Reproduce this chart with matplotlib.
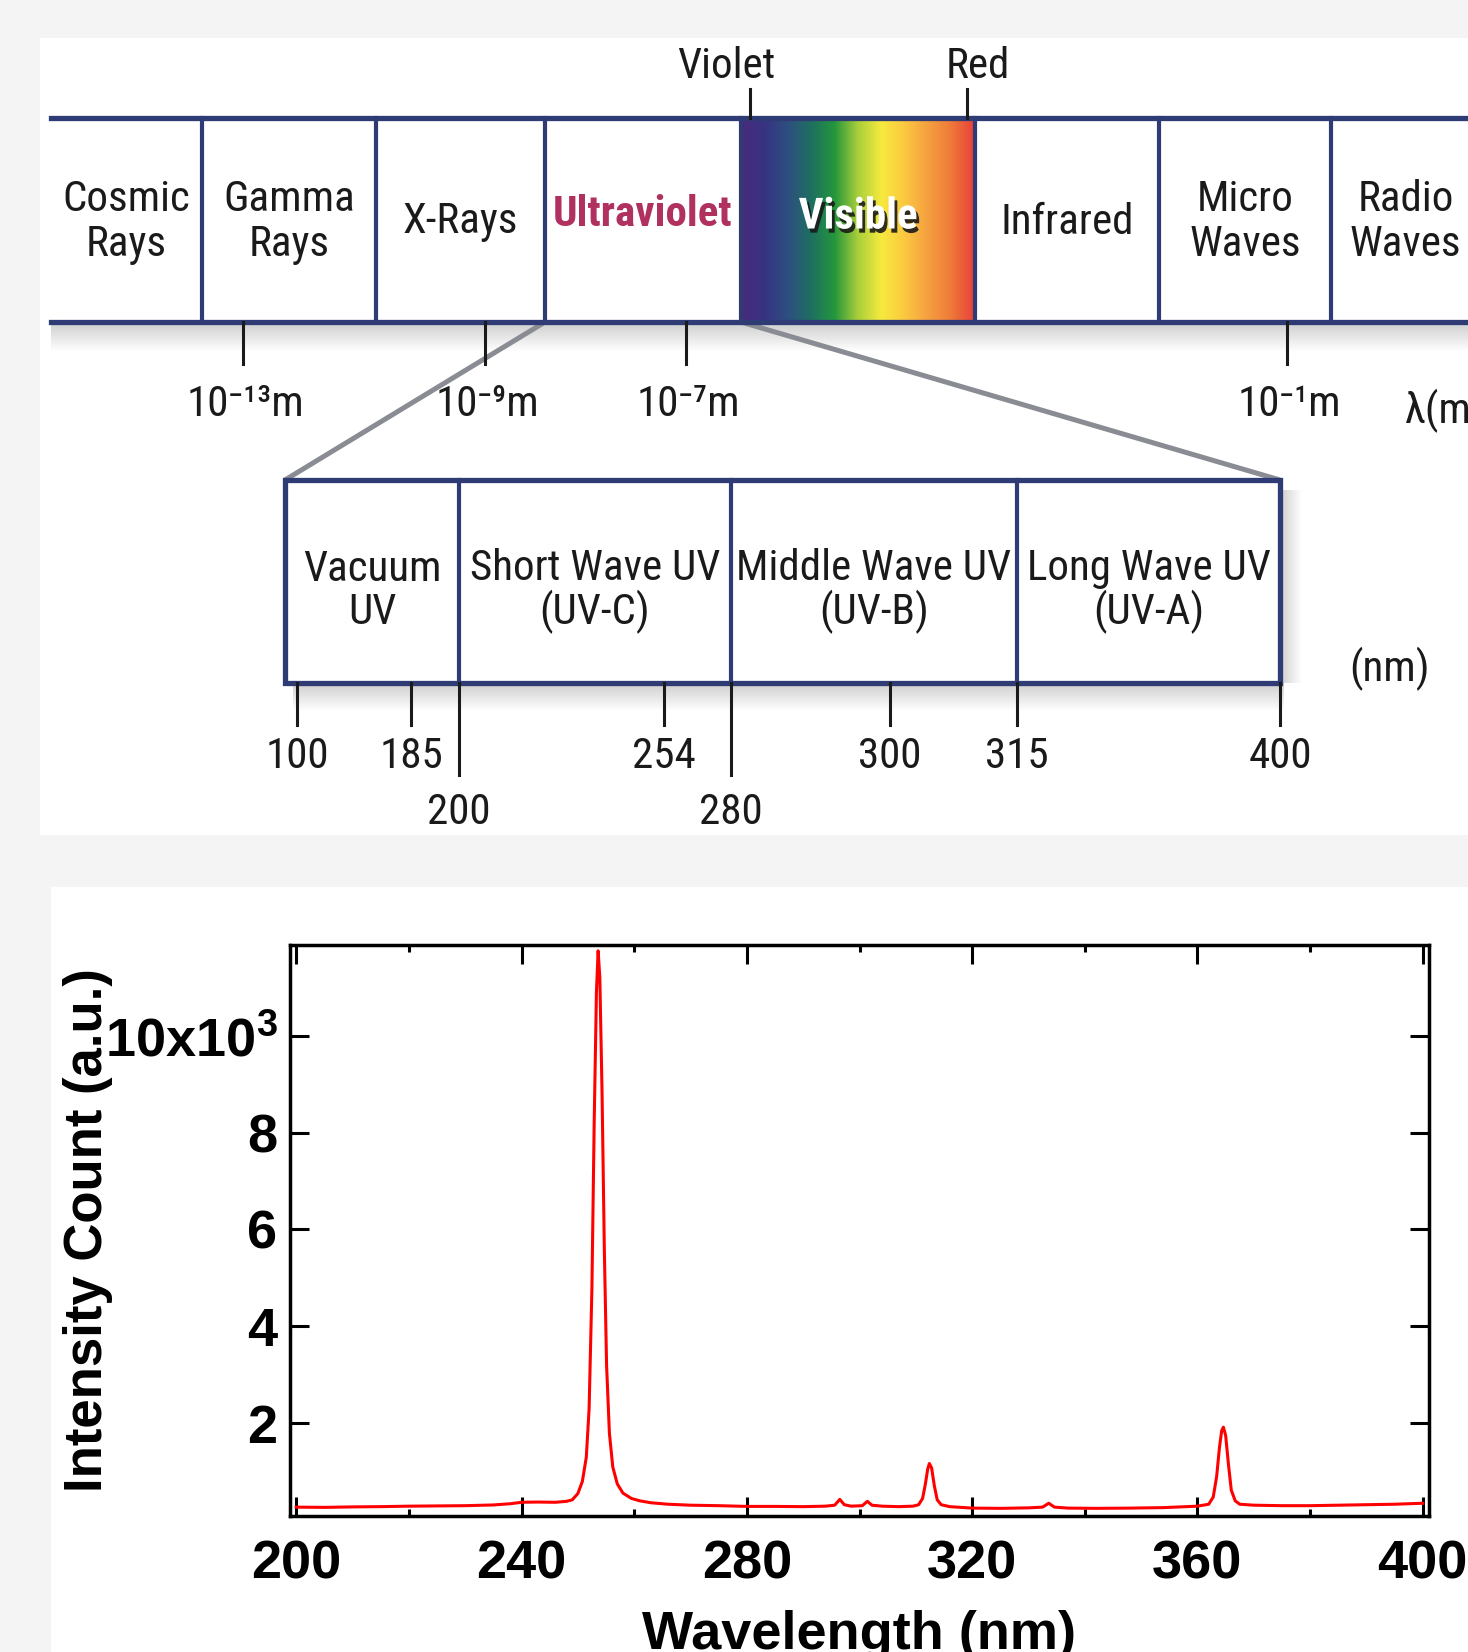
import numpy as np
import matplotlib
matplotlib.use('Agg')
import matplotlib.pyplot as plt
import matplotlib.patheffects as pe
from matplotlib import font_manager
from matplotlib.colors import LinearSegmentedColormap

# ---------------- data ----------------
# electromagnetic spectrum bar (schematic, diagram pixel units)
band_labels = ['Cosmic\nRays', 'Gamma\nRays', 'X-Rays', 'Ultraviolet', 'Visible',
               'Infrared', 'Micro\nWaves', 'Radio\nWaves']
band_edges = [51, 202, 376, 545, 741, 975, 1159, 1331, 1480]
scale_labels = ['10\u207b\u00b9\u00b3m', '10\u207b\u2079m', '10\u207b\u2077m', '10\u207b\u00b9m']
scale_pos = [243, 485, 686, 1287]

# UV detail box
uv_labels = ['Vacuum\nUV', 'Short Wave UV\n(UV-C)', 'Middle Wave UV\n(UV-B)', 'Long Wave UV\n(UV-A)']
uv_edges = [285, 459, 731, 1017, 1280]
uv_ticks = [100, 185, 200, 254, 280, 300, 315, 400]
uv_tick_pos = [297, 411, 459, 664, 731, 890, 1017, 1280]
uv_tick_row = [0, 0, 1, 0, 1, 0, 0, 0]

visible_colors = ['#4a2a7a', '#363383', '#2e4f80', '#1d7060', '#25963c', '#a9cf3a',
                  '#f6ea3e', '#fbc840', '#f5a040', '#ee7a38', '#e8403a']

# measured spectrum (nm, counts)
wavelength = [200, 205, 210, 215, 220, 225, 230, 235, 238, 240, 243, 246, 248,
              249.0, 250.0, 250.8, 251.5, 252.0, 252.5, 252.9, 253.3, 253.6, 253.9,
              254.3, 254.7, 255.1, 255.6, 256.2, 257.0, 258.0, 259.5, 261, 263, 266,
              270, 275, 280, 285, 290, 294, 295.6, 296.5, 297.3, 298.5, 300.5, 301.4,
              302.2, 304, 307, 309.5, 310.5, 311.2, 311.7, 312.1, 312.4, 312.8, 313.3,
              313.8, 314.5, 316, 320, 325, 330, 332.5, 333.6, 334.6, 337, 342, 348,
              354, 360, 362.0, 362.8, 363.4, 363.9, 364.3, 364.6, 365.0, 365.5, 366.0,
              366.7, 367.5, 370, 375, 380, 385, 390, 395, 400]
intensity = [270, 265, 275, 280, 290, 295, 300, 315, 340, 370, 375, 370, 390,
             420, 550, 800, 1300, 2300, 4800, 8200, 10900, 11750, 11200,
             8800, 5600, 3200, 1800, 1100, 750, 560, 450, 400, 360, 330,
             310, 300, 285, 285, 280, 290, 310, 430, 320, 290, 300, 390,
             310, 290, 280, 290, 320, 450, 750, 1050, 1170, 1080, 700,
             420, 320, 280, 250, 245, 255, 270, 350, 270, 250, 245, 250,
             260, 290, 330, 480, 900, 1500, 1850, 1920, 1750, 1150, 620,
             400, 330, 310, 300, 300, 310, 320, 330, 350]

# ---------------- fonts ----------------
ttf = font_manager.fontManager.ttflist
names = {f.name for f in ttf}
if 'Liberation Sans Narrow' in names:
    narrow, stretch, fscale = 'Liberation Sans Narrow', 'normal', 1.0
elif 'Roboto Condensed' in names:
    narrow, stretch, fscale = 'Roboto Condensed', 'normal', 1.0
elif any(f.name == 'DejaVu Sans' and f.stretch in ('condensed', 'semi-condensed') for f in ttf):
    narrow, stretch, fscale = 'DejaVu Sans', 'condensed', 0.85
else:
    narrow, stretch, fscale = 'Liberation Sans', 'normal', 0.86
dfont = dict(family=[narrow, 'DejaVu Sans'], fontstretch=stretch, fontsize=31 * fscale)

plt.rcParams['font.family'] = ['Liberation Sans', 'DejaVu Sans']
plt.rcParams['mathtext.fontset'] = 'custom'
plt.rcParams['mathtext.rm'] = 'Liberation Sans:bold'
plt.rcParams['mathtext.bf'] = 'Liberation Sans:bold'

navy = '#2e3b74'
ink = '#1a1a1a'
fig = plt.figure(figsize=(14.68, 16.52), dpi=100, facecolor='#f4f4f4')

# ---------------- diagram (pixel coordinates) ----------------
ax_d = fig.add_axes([0, 0, 1, 1], zorder=0)
ax_d.set_axis_off()

ax_d.add_patch(plt.Rectangle((40, 38), 1428, 797, color='white', lw=0))
ax_d.add_patch(plt.Rectangle((51, 887), 1417, 765, color='white', lw=0))

def shadow(x0, x1, y0, y1, vertical=True):
    n = 40
    a = np.linspace(0.35, 0, n)
    img = np.zeros((n, 1, 4)) if vertical else np.zeros((1, n, 4))
    img[..., :3] = 0.45
    img[..., 3] = a.reshape(img.shape[:2])
    ax_d.imshow(img, extent=(x0, x1, y1, y0), aspect='auto', interpolation='bilinear', zorder=1)

band_top, band_bot = 118, 322
shadow(51, 1468, band_bot, band_bot + 30)

# zoom lines to UV box
box_top, box_bot = 480, 683
ax_d.plot([band_edges[3], uv_edges[0]], [band_bot, box_top], color='#8a8c94', lw=3.6, zorder=2,
          solid_capstyle='butt')
ax_d.plot([band_edges[4], uv_edges[-1]], [band_bot, box_top], color='#8a8c94', lw=3.6, zorder=2,
          solid_capstyle='butt')

# visible gradient
cmap = LinearSegmentedColormap.from_list('vis', visible_colors)
ax_d.imshow(np.linspace(0, 1, 256).reshape(1, -1), cmap=cmap, aspect='auto',
            extent=(band_edges[4], band_edges[5], band_bot, band_top), zorder=2)

# band frame
ax_d.plot([51, 1468], [band_top, band_top], color=navy, lw=3.8, zorder=4)
ax_d.plot([51, 1468], [band_bot, band_bot], color=navy, lw=3.8, zorder=4)
for x in band_edges[1:-1]:
    ax_d.plot([x, x], [band_top, band_bot], color=navy, lw=3.0, zorder=4)

for i, lab in enumerate(band_labels):
    xc = (band_edges[i] + band_edges[i + 1]) / 2
    kw = dict(ha='center', va='center', zorder=5, linespacing=1.12, **dfont)
    if lab == 'Ultraviolet':
        ax_d.text(xc, 215, lab, color='#b0305f', fontweight='bold', **kw)
    elif lab == 'Visible':
        ax_d.text(xc, 217, lab, color='white', fontweight='bold',
                  path_effects=[pe.SimplePatchShadow(offset=(2, -3), shadow_rgbFace='#1a1a1a', alpha=0.9),
                                pe.Normal()], **kw)
    else:
        ax_d.text(xc, 222, lab, color=ink, **kw)

# violet / red markers
for lab, xt, xl in [('Violet', 750, 726), ('Red', 967, 978)]:
    ax_d.plot([xt, xt], [89, band_top], color=ink, lw=2.2, zorder=4)
    ax_d.text(xl, 66, lab, ha='center', va='center', color=ink, **dfont)

# wavelength scale
for lab, x in zip(scale_labels, scale_pos):
    ax_d.plot([x, x], [band_bot, 364], color=ink, lw=2.2, zorder=4)
    ax_d.text(x + 2, 404, lab, ha='center', va='center', color=ink, **dfont)
ax_d.text(1405, 411, '\u03bb(m)', ha='left', va='center', color=ink, **dfont)

# UV box
shadow(uv_edges[0] + 8, uv_edges[-1] + 4, box_bot, box_bot + 28)
shadow(uv_edges[-1], uv_edges[-1] + 22, box_top + 10, box_bot, vertical=False)
ax_d.add_patch(plt.Rectangle((uv_edges[0], box_top), uv_edges[-1] - uv_edges[0], box_bot - box_top,
                             facecolor='white', edgecolor=navy, lw=3.8, zorder=3))
for x in uv_edges[1:-1]:
    ax_d.plot([x, x], [box_top, box_bot], color=navy, lw=3.0, zorder=4)
for i, lab in enumerate(uv_labels):
    xc = (uv_edges[i] + uv_edges[i + 1]) / 2
    ax_d.text(xc, 591, lab, ha='center', va='center', color=ink, linespacing=1.05, zorder=5, **dfont)
ax_d.text(1389, 669, '(nm)', ha='center', va='center', color=ink, **dfont)

for val, x, row in zip(uv_ticks, uv_tick_pos, uv_tick_row):
    y_end = 725 if row == 0 else 775
    ax_d.plot([x, x], [box_bot, y_end], color=ink, lw=2.2, zorder=4)
    ax_d.text(x, 756 if row == 0 else 812, str(val), ha='center', va='center', color=ink, **dfont)

ax_d.set_xlim(0, 1468)
ax_d.set_ylim(1652, 0)

# ---------------- spectrum plot ----------------
ax = fig.add_axes([290 / 1468, 1 - 1516 / 1652, 1139 / 1468, 571 / 1652], zorder=2)
ax.set_facecolor('white')
ax.plot(wavelength, intensity, color='#ff0000', lw=2.2)
ax.set_xlim(198.9, 401.1)
ax.set_ylim(87, 11870)

ax.set_xticks(np.arange(200, 401, 40))
ax.set_xticks(np.arange(200, 401, 20), minor=True)
ax.set_yticks([2000, 4000, 6000, 8000, 10000])
ax.set_yticklabels(['2', '4', '6', '8', r'10x10$^{\mathbf{3}}$'])
ax.tick_params(which='major', direction='in', length=14, width=2.2, top=True, right=True,
               labelsize=39)
ax.tick_params(axis='x', which='major', pad=17)
ax.tick_params(axis='y', which='major', pad=9)
ax.tick_params(axis='x', which='minor', direction='in', length=5, width=2.2, top=True)
for lab in ax.get_xticklabels() + ax.get_yticklabels():
    lab.set_fontweight('bold')
for s in ax.spines.values():
    s.set_linewidth(2.5)

ax.set_ylabel('Intensity Count (a.u.)', fontsize=38, fontweight='bold')
ax.yaxis.set_label_coords(-0.155, 0.5)
ax.set_xlabel('Wavelength (nm)', fontsize=39, fontweight='bold', va='top')
ax.xaxis.set_label_coords(0.5, -0.165)

fig.savefig('out.png', dpi=100, facecolor=fig.get_facecolor())
